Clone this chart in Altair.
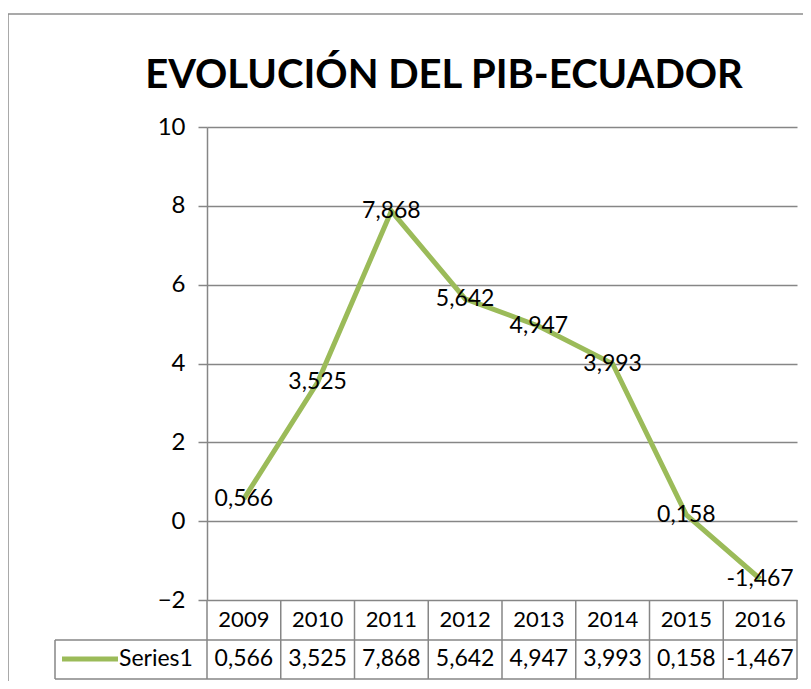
import altair as alt
import pandas as pd

# ---- data ----
years = ["2009", "2010", "2011", "2012", "2013", "2014", "2015", "2016"]
values = [0.566, 3.525, 7.868, 5.642, 4.947, 3.993, 0.158, -1.467]
y_ticks = [-2, 0, 2, 4, 6, 8, 10]
title_text = "EVOLUCIÓN DEL PIB-ECUADOR"
series_name = "Series1"

labels = [f"{v:.3f}".replace(".", ",") for v in values]

W, H = 590, 473
GREEN = "#9BBB59"
GRAY = "#868686"
FONT = "Lato"

df = pd.DataFrame({"year": years, "value": values, "label": labels})
one = pd.DataFrame({"series": [series_name], "title": [title_text]})
last = pd.DataFrame({"year": [years[-1]]})

xscale = alt.Scale(type="band", domain=years, paddingInner=0, paddingOuter=0)
yscale = alt.Scale(domain=[y_ticks[0], y_ticks[-1]], nice=False, zero=False)

base = alt.Chart(df)

line = base.mark_line(color=GREEN, strokeWidth=5).encode(
    x=alt.X("year:N", scale=xscale, axis=None),
    y=alt.Y(
        "value:Q",
        scale=yscale,
        title=None,
        axis=alt.Axis(
            values=y_ticks,
            grid=True,
            gridColor=GRAY,
            gridWidth=1.5,
            domainColor=GRAY,
            domainWidth=1.5,
            tickColor=GRAY,
            tickWidth=1.5,
            tickSize=9,
            labelFont=FONT,
            labelFontSize=24,
            labelColor="black",
            labelPadding=13,
        ),
    ),
)

point_labels = base.mark_text(
    font=FONT, fontSize=23, color="black", align="center", baseline="middle"
).encode(
    x=alt.X("year:N", scale=xscale, axis=None),
    y=alt.Y("value:Q", scale=yscale),
    text="label:N",
)

# ---- data table below the plot ----
year_row = base.mark_text(
    font=FONT, fontSize=22, color="black", align="center", baseline="middle"
).encode(
    x=alt.X("year:N", scale=xscale, axis=None),
    y=alt.value(H + 20),
    text="year:N",
)
value_row = base.mark_text(
    font=FONT, fontSize=23, color="black", align="center", baseline="middle"
).encode(
    x=alt.X("year:N", scale=xscale, axis=None),
    y=alt.value(H + 59),
    text="label:N",
)

vlines = base.mark_rule(color=GRAY, strokeWidth=1.5).encode(
    x=alt.X("year:N", scale=xscale, axis=None, bandPosition=0),
    y=alt.value(H),
    y2=alt.value(H + 79),
)
vline_last = alt.Chart(last).mark_rule(color=GRAY, strokeWidth=1.5).encode(
    x=alt.X("year:N", scale=xscale, axis=None, bandPosition=1),
    y=alt.value(H),
    y2=alt.value(H + 79),
)

oc = alt.Chart(one)
hline1 = oc.mark_rule(color=GRAY, strokeWidth=1.5).encode(
    x=alt.value(-152), x2=alt.value(W), y=alt.value(H + 40)
)
hline2 = oc.mark_rule(color=GRAY, strokeWidth=1.5).encode(
    x=alt.value(-152), x2=alt.value(W), y=alt.value(H + 79)
)
vline_left = oc.mark_rule(color=GRAY, strokeWidth=1.5).encode(
    x=alt.value(-152), y=alt.value(H + 40), y2=alt.value(H + 79)
)
legend_line = oc.mark_rule(color=GREEN, strokeWidth=5).encode(
    x=alt.value(-145), x2=alt.value(-89), y=alt.value(H + 59)
)
legend_text = oc.mark_text(
    font=FONT, fontSize=23, color="black", align="left", baseline="middle"
).encode(x=alt.value(-88), y=alt.value(H + 59), text="series:N")

# ---- chart border and title ----
border_top = oc.mark_rule(color="#8c8c8c", strokeWidth=1.5).encode(
    x=alt.value(-199), x2=alt.value(W + 40), y=alt.value(-113)
)
border_left = oc.mark_rule(color="#8c8c8c", strokeWidth=1.5).encode(
    x=alt.value(-199), y=alt.value(-113), y2=alt.value(H + 120)
)
title = oc.mark_text(
    font=FONT, fontSize=40, fontWeight="bold", color="black",
    align="center", baseline="alphabetic",
).encode(x=alt.value(237), y=alt.value(-39), text="title:N")

chart = (
    alt.layer(
        line, vlines, vline_last, hline1, hline2, vline_left,
        year_row, value_row, legend_line, legend_text,
        border_top, border_left, title, point_labels,
    )
    .properties(
        width=W,
        height=H,
        autosize=alt.AutoSizeParams(type="none"),
        padding={"left": 199, "top": 119, "right": 6, "bottom": 81},
    )
    .configure_view(strokeWidth=0)
)

chart.save("out.html", embed_options={"renderer": "svg", "actions": False})
